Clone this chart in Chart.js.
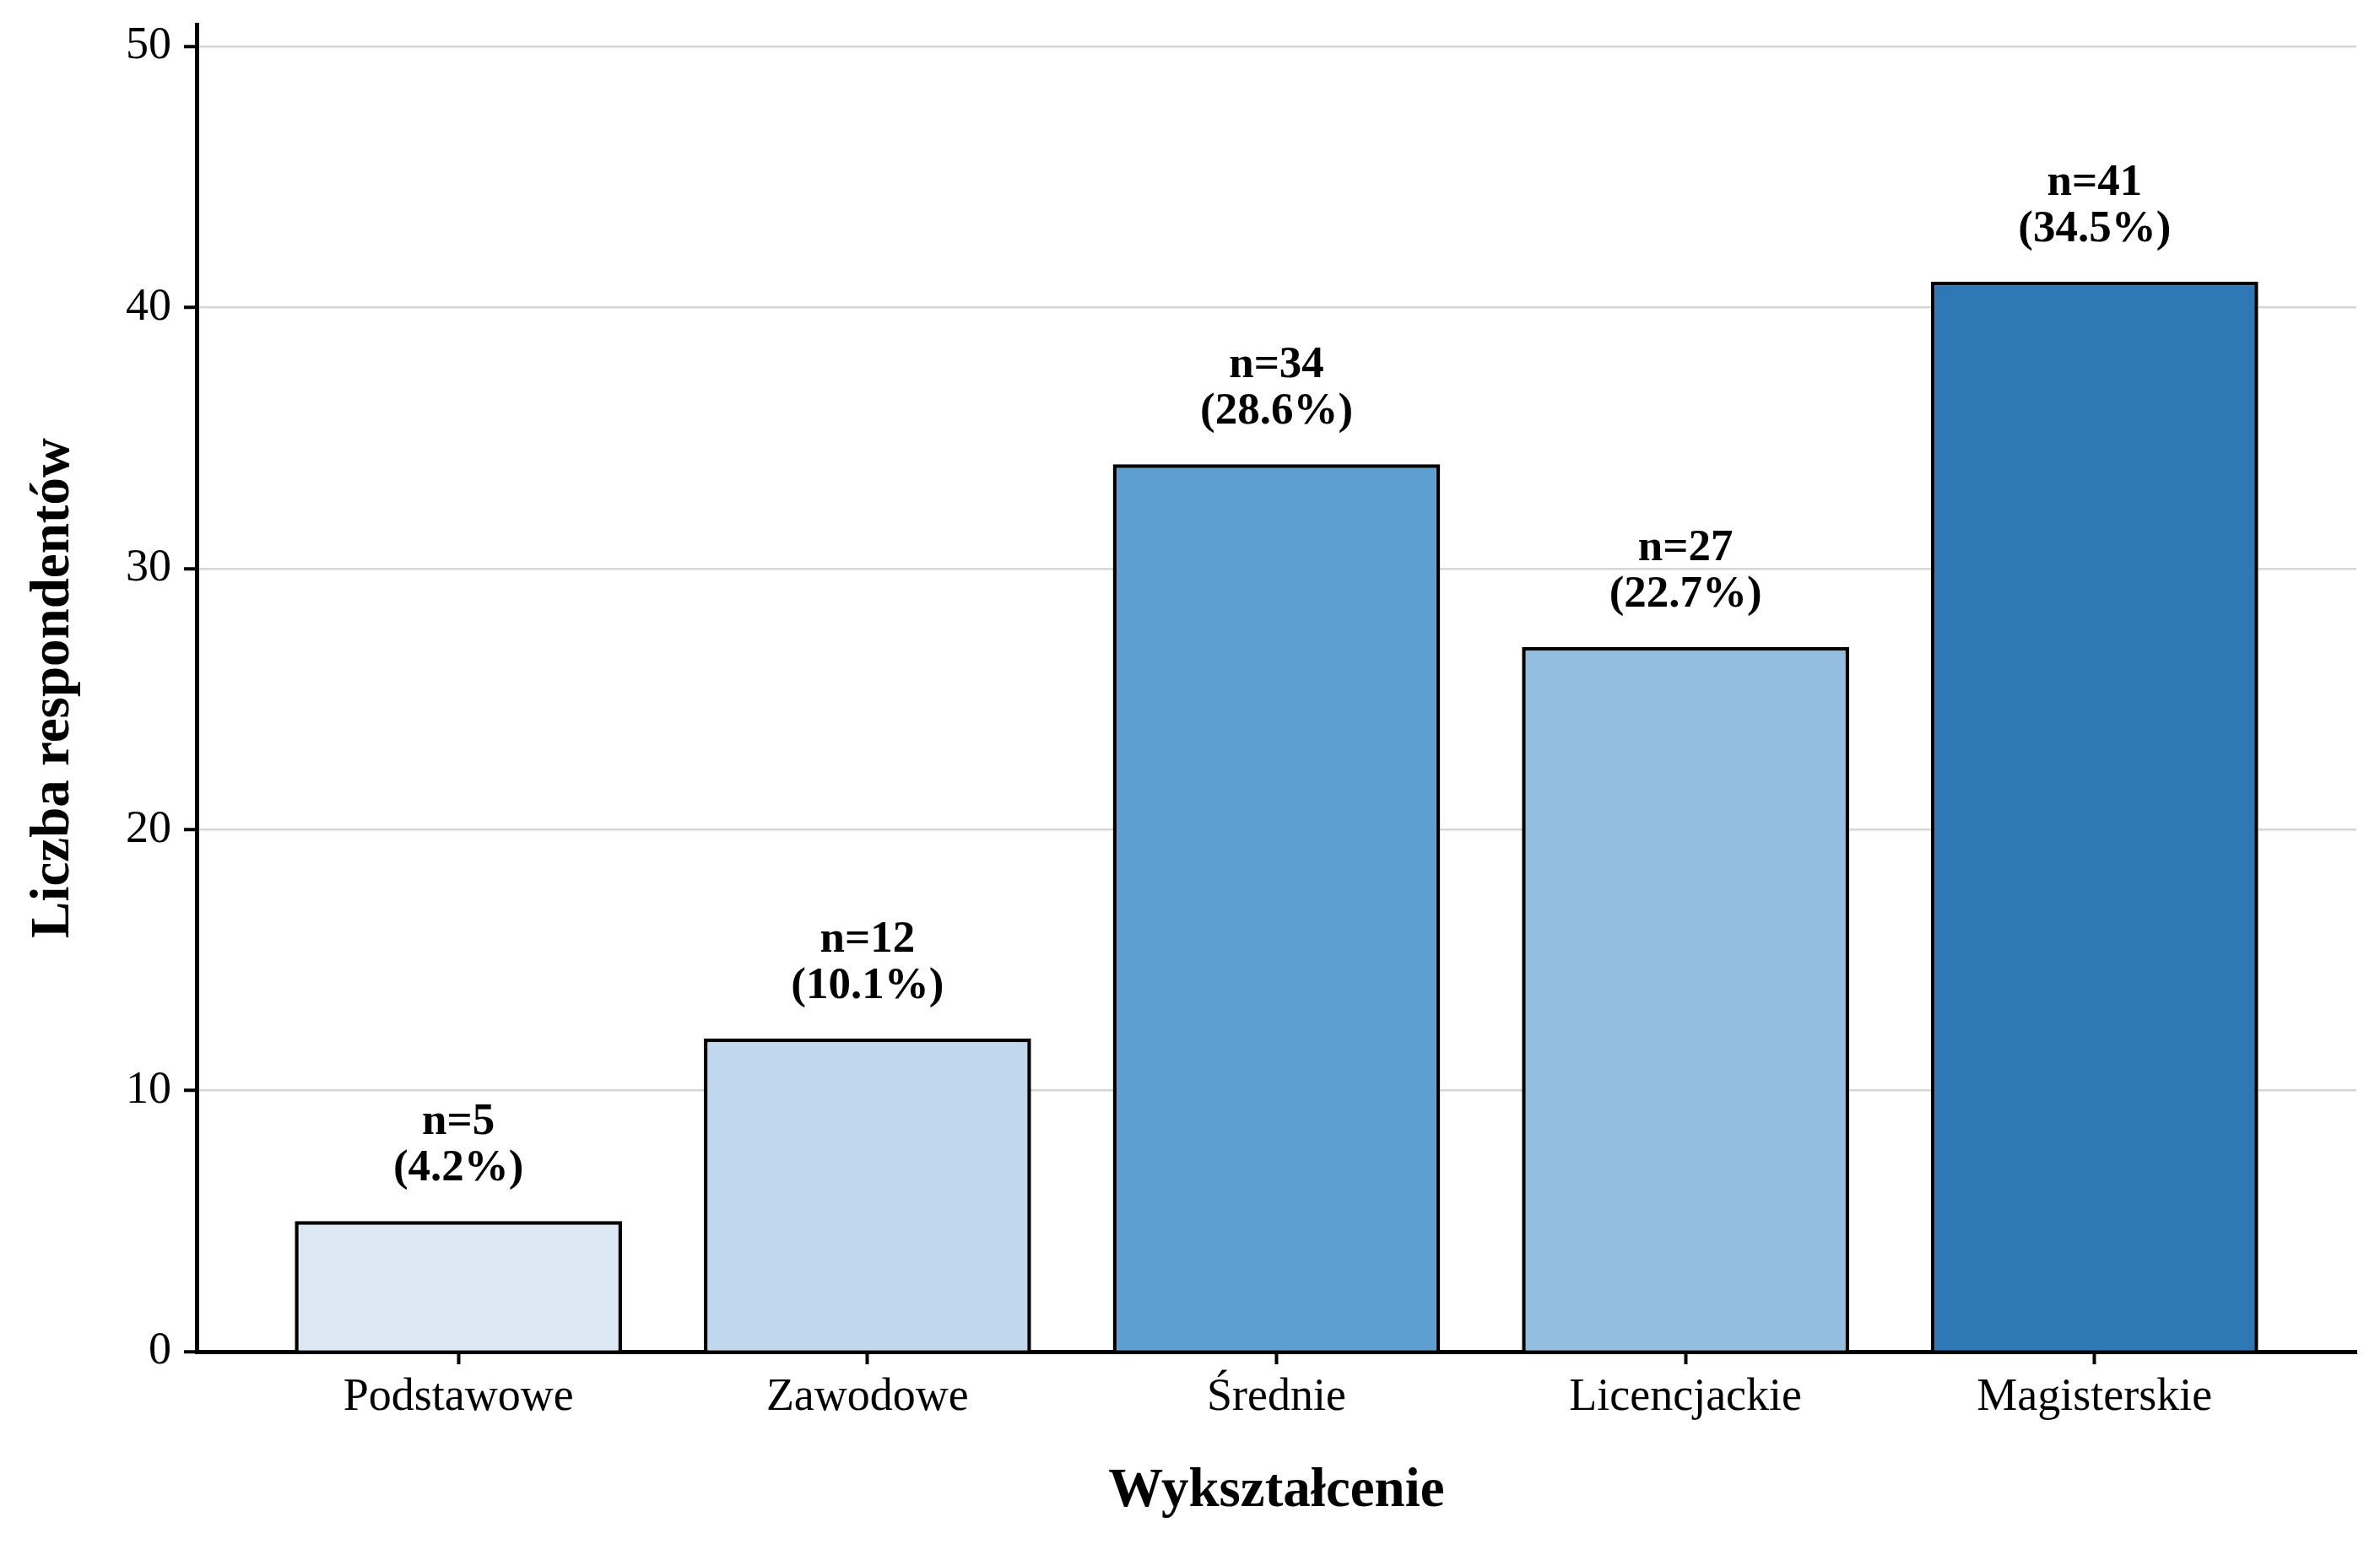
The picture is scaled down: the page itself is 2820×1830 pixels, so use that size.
<!DOCTYPE html>
<html lang="pl">
<head>
<meta charset="utf-8">
<title>Wykształcenie</title>
<script src="https://cdn.jsdelivr.net/npm/chart.js@4.4.1/dist/chart.umd.min.js"></script>
<style>
  html, body { margin: 0; padding: 0; background: #fff; }
  canvas { display: block; }
</style>
</head>
<body>
<canvas id="chart" width="2820" height="1830"></canvas>
<script>
// Dane wykresu
const kategorie = ['Podstawowe', 'Zawodowe', 'Średnie', 'Licencjackie', 'Magisterskie'];
const liczby = [5, 12, 34, 27, 41];
const procenty = [4.2, 10.1, 28.6, 22.7, 34.5];
const yTicks = [0, 10, 20, 30, 40, 50];
const kolory = ['#dce9f5', '#c0d7ed', '#5e9fd1', '#94bee0', '#2e78b6'];

const FONT = "'Liberation Serif', 'Times New Roman', serif";
Chart.defaults.color = '#000';
Chart.defaults.font.family = FONT;

// Etykiety nad słupkami
const etykiety = {
  id: 'etykiety',
  afterDatasetsDraw(chart) {
    const ctx = chart.ctx;
    const meta = chart.getDatasetMeta(0);
    ctx.save();
    ctx.fillStyle = '#000';
    ctx.font = 'bold 53px ' + FONT;
    ctx.textAlign = 'center';
    ctx.textBaseline = 'alphabetic';
    meta.data.forEach((bar, i) => {
      const yb = bar.y - 48;
      ctx.fillText('n=' + liczby[i], bar.x, yb - 55);
      ctx.fillText('(' + procenty[i].toFixed(1) + '%)', bar.x, yb);
    });
    ctx.restore();
  }
};

new Chart(document.getElementById('chart'), {
  type: 'bar',
  data: {
    datasets: [{
      data: liczby.map((v, i) => ({ x: i, y: v })),
      backgroundColor: kolory,
      borderColor: '#000',
      borderWidth: 4.5,
      barPercentage: 0.8,
      categoryPercentage: 1.0
    }]
  },
  options: {
    responsive: false,
    animation: false,
    layout: { padding: { top: 29, right: 28, left: 0, bottom: 0 } },
    plugins: {
      legend: { display: false },
      tooltip: { enabled: false }
    },
    scales: {
      x: {
        type: 'linear',
        offset: false,
        min: -0.64,
        max: 4.64,
        afterBuildTicks: s => { s.ticks = kategorie.map((c, i) => ({ value: i })); },
        afterFit: s => { s.height = 228; s.paddingLeft = 0; s.paddingRight = 0; },
        grid: { offset: false, drawOnChartArea: false, drawTicks: true, tickLength: 15, tickColor: '#000', tickWidth: 4 },
        border: { display: true, color: '#000', width: 5 },
        ticks: {
          padding: 7,
          maxRotation: 0,
          autoSkip: false,
          font: { size: 54 },
          callback: v => kategorie[v]
        },
        title: {
          display: true,
          text: 'Wykształcenie',
          font: { size: 65, weight: 'bold' },
          padding: { top: 0, bottom: 23 }
        }
      },
      y: {
        min: 0,
        max: 50.85,
        afterBuildTicks: s => { s.ticks = yTicks.map(v => ({ value: v })); },
        afterFit: s => { s.width = 233; s.paddingTop = 0; s.paddingBottom = 0; },
        grid: { color: '#d6d6d6', lineWidth: 2.5, drawTicks: true, tickLength: 15, tickColor: '#000', tickWidth: 4 },
        border: { display: true, color: '#000', width: 5 },
        ticks: {
          padding: 15,
          font: { size: 54 }
        },
        title: {
          display: true,
          text: 'Liczba respondentów',
          font: { size: 65, weight: 'bold' },
          padding: { top: 25, bottom: 0 }
        }
      }
    }
  },
  plugins: [etykiety]
});
</script>
</body>
</html>
